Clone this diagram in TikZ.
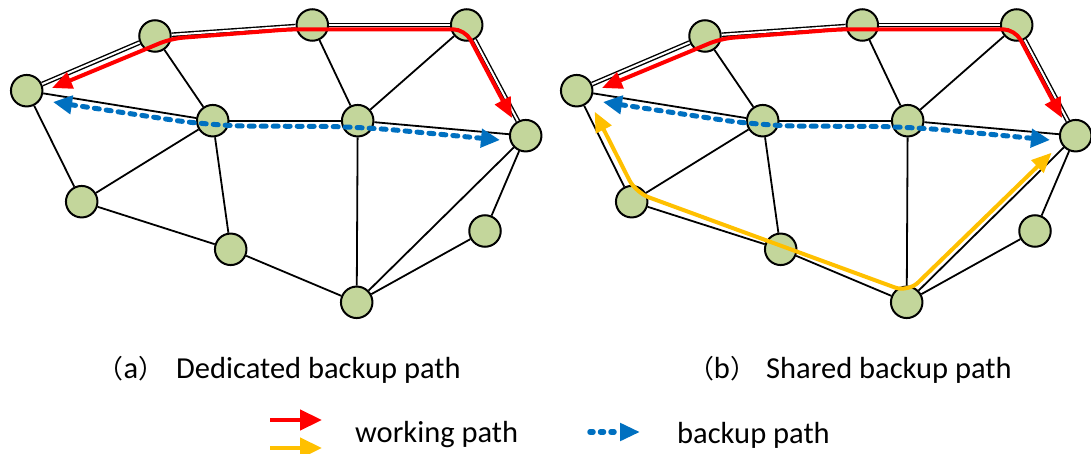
\documentclass[tikz,border=0pt]{standalone}
\usepackage{fontspec}
\setmainfont{Carlito}
\newfontfamily\cjk[Scale=0.85]{Noto Sans CJK SC}
\usetikzlibrary{arrows.meta,calc}
\definecolor{nodegreen}{HTML}{C3D69B}
\definecolor{workred}{HTML}{FF0000}
\definecolor{backblue}{HTML}{0070C0}
\definecolor{workyellow}{HTML}{FFC000}
\tikzset{
  netnode/.style={circle, draw=black, line width=2pt, fill=nodegreen,
    minimum size=31.5pt, inner sep=0pt},
  link/.style={draw=black, line width=1.8pt},
  pathlink/.style={draw=black, line width=1.4pt, double=white, double distance=2pt},
  redpath/.style={draw=workred, line width=4pt, rounded corners=12pt,
    arrows={Triangle[length=20pt,width=17pt]-Triangle[length=20pt,width=17pt]}},
  yellowpath/.style={draw=workyellow, line width=4pt, rounded corners=14pt,
    arrows={Triangle[length=20pt,width=17pt]-Triangle[length=20pt,width=17pt]}},
  bluepath/.style={draw=backblue, line width=5pt, line cap=round,
    dash pattern=on 5pt off 7pt, rounded corners=40pt,
    arrows={Triangle[length=19pt,width=18pt]-Triangle[length=19pt,width=18pt]}},
  legarrow/.style={line width=4.5pt, -{Triangle[length=22pt,width=20pt]}},
  legblue/.style={draw=backblue, line width=5.5pt, line cap=round,
    dash pattern=on 3pt off 7.5pt, -{Triangle[length=20pt,width=17pt]}},
  label/.style={inner sep=0pt, font=\fontsize{30.5pt}{36pt}\selectfont},
}
\begin{document}
\begin{tikzpicture}[x=1pt,y=-1pt]
\useasboundingbox (0,0) rectangle (1091,454);

% two copies of the same network, the second one shifted right
\foreach \p/\dx in {a/0,b/550} {
  \begin{scope}[xshift=\dx pt]
    \node[netnode] (\p1)  at (26.7,90.7)  {};
    \node[netnode] (\p2)  at (155,36)     {};
    \node[netnode] (\p3)  at (312.3,25)   {};
    \node[netnode] (\p4)  at (466.7,25)   {};
    \node[netnode] (\p5)  at (525.7,135.7){};
    \node[netnode] (\p6)  at (212.7,120.7){};
    \node[netnode] (\p7)  at (357.7,120.7){};
    \node[netnode] (\p8)  at (81.7,201.7) {};
    \node[netnode] (\p9)  at (230.7,249.3){};
    \node[netnode] (\p10) at (356.7,302.3){};
    \node[netnode] (\p11) at (485,231)    {};
  \end{scope}
  % ordinary links
  \foreach \u/\v in {2/6,3/7,4/7,1/6,6/7,7/5,1/8,8/6,8/9,6/9,9/10,7/10,10/5,10/11,11/5}
    \draw[link] (\p\u) -- (\p\v);
  % links carrying the working path
  \foreach \u/\v in {1/2,2/3,3/4,4/5}
    \draw[pathlink] (\p\u) -- (\p\v);
  % working path
  \draw[redpath] ($(\p1)+(25.3,-2.7)$) -- ($(\p2)+(16,2.6)$) -- ($(\p3)+(-22,4.3)$)
    -- ($(\p4)+(-1.7,4.3)$) -- ($(\p5)+(-13.7,-17.7)$);
  % backup path
  \draw[bluepath] ($(\p1)+(26.3,11.3)$) -- ($(\p6)+(-0.7,5.3)$) -- ($(\p7)+(0.3,5.8)$)
    -- ($(\p5)+(-25.7,4.3)$);
}
% second working path of the shared case
\draw[yellowpath] ($(b1)+(18,21)$) -- ($(b8)+(3.9,-9.2)$) -- ($(b10)+(1.3,-10)$)
  -- ($(b5)+(-24,17)$);

% captions
\node[label, anchor=base] (taga) at (131,378) {{\cjk （}a{\cjk ）}};
\node[label, anchor=base west] (titlea) at (176,378) {Dedicated backup path};
\node[label, anchor=base] (tagb) at (722,378) {{\cjk （}b{\cjk ）}};
\node[label, anchor=base west] (titleb) at (766,378) {Shared backup path};

% legend
\coordinate (lr1) at (270,420); \coordinate (lr2) at (322,420);
\coordinate (ly1) at (270,448); \coordinate (ly2) at (322,448);
\coordinate (lb1) at (590,432); \coordinate (lb2) at (640,432);
\draw[legarrow, draw=workred, fill=workred] (lr1) -- (lr2);
\draw[legarrow, draw=workyellow, fill=workyellow] (ly1) -- (ly2);
\draw[legblue] (lb1) -- (lb2);
\node[label, anchor=base west] (lgwork) at (355,442) {working path};
\node[label, anchor=base west] (lgback) at (677,443) {backup path};
\end{tikzpicture}
\end{document}
